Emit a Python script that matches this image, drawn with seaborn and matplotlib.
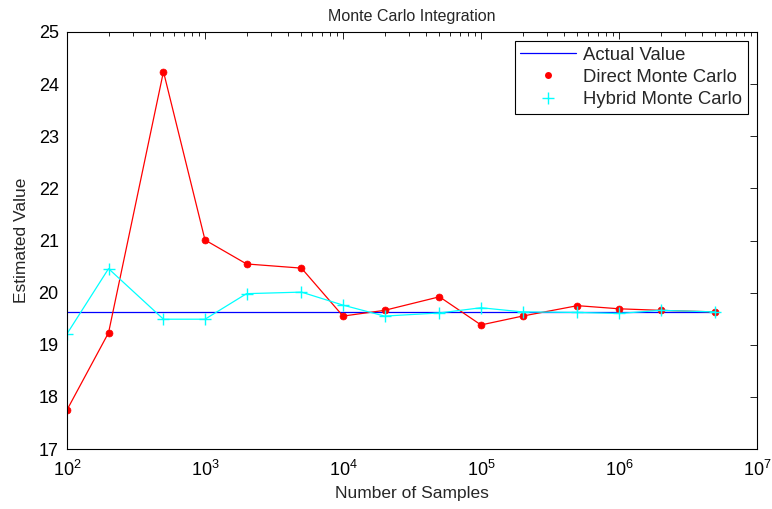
import matplotlib
matplotlib.use("Agg")
import matplotlib.pyplot as plt
from matplotlib.lines import Line2D
from matplotlib.ticker import LogLocator, NullFormatter
import seaborn as sns
import pandas as pd

samples = [1e2, 2e2, 5e2, 1e3, 2e3, 5e3, 1e4, 2e4, 5e4, 1e5, 2e5, 5e5, 1e6, 2e6, 5e6]
direct_mc = [17.75, 19.23, 24.24, 21.01, 20.55, 20.47, 19.55, 19.66, 19.92, 19.38,
             19.55, 19.75, 19.69, 19.66, 19.63]
hybrid_mc = [19.21, 20.46, 19.49, 19.49, 19.98, 20.01, 19.76, 19.55, 19.61, 19.71,
             19.63, 19.62, 19.60, 19.66, 19.63]
actual_value = 19.63

sns.set_theme(style="white")
plt.rcParams["font.family"] = ["Liberation Sans", "DejaVu Sans"]
plt.rcParams["font.size"] = 11

df = pd.DataFrame({"samples": samples, "direct": direct_mc, "hybrid": hybrid_mc,
                   "actual": [actual_value] * len(samples)})

BLUE, RED, CYAN = "#0000ff", "#ff0000", "#00ffff"

fig = plt.figure(figsize=(7.72, 5.09), dpi=100)
ax = fig.add_axes([67 / 772, 60 / 509, 690 / 772, 417 / 509])

sns.lineplot(data=df, x="samples", y="actual", ax=ax, color=BLUE, linewidth=0.9)
sns.lineplot(data=df, x="samples", y="direct", ax=ax, color=RED, linewidth=0.9,
             marker="o", markersize=5, markeredgewidth=0.5,
             markeredgecolor=RED, markerfacecolor=RED)
sns.lineplot(data=df, x="samples", y="hybrid", ax=ax, color=CYAN, linewidth=0.9,
             marker="+", markersize=9, markeredgewidth=1.0,
             markeredgecolor=CYAN, markerfacecolor=CYAN)

ax.set_xscale("log")
ax.set_xlim(1e2, 1e7)
ax.set_ylim(17, 25)
ax.set_yticks(range(17, 26))
ax.xaxis.set_major_locator(LogLocator(base=10, numticks=10))
ax.xaxis.set_minor_locator(LogLocator(base=10, subs=range(2, 10), numticks=50))
ax.xaxis.set_minor_formatter(NullFormatter())

ax.tick_params(axis="both", which="both", direction="in", top=True, right=True,
               colors="black")
ax.tick_params(which="major", length=5, width=0.6)
ax.tick_params(which="minor", length=3, width=0.6)
ax.tick_params(axis="x", which="major", labelsize=13, pad=8)
ax.tick_params(axis="y", labelsize=13, pad=6)
for s in ax.spines.values():
    s.set_color("black")
    s.set_linewidth(0.8)

ax.set_xlabel("Number of Samples", fontsize=12.5, labelpad=4)
ax.set_ylabel("Estimated Value", fontsize=12.5, labelpad=7)
ax.set_title("Monte Carlo Integration", fontsize=11.5, pad=8)

handles = [
    Line2D([], [], color=BLUE, linewidth=0.9),
    Line2D([], [], color=RED, linestyle="none", marker="o", markersize=5,
           markeredgewidth=0),
    Line2D([], [], color=CYAN, linestyle="none", marker="+", markersize=8,
           markeredgewidth=1.0),
]
leg = ax.legend(handles, ["Actual Value", "Direct Monte Carlo", "Hybrid Monte Carlo"],
                loc="upper right", fontsize=13.3, frameon=True, fancybox=False,
                edgecolor="black", framealpha=1, borderaxespad=0.5,
                handlelength=3.0, labelspacing=0.28, borderpad=0.3,
                handletextpad=0.4)
leg.get_frame().set_linewidth(0.8)

fig.savefig("out.png", dpi=100)
